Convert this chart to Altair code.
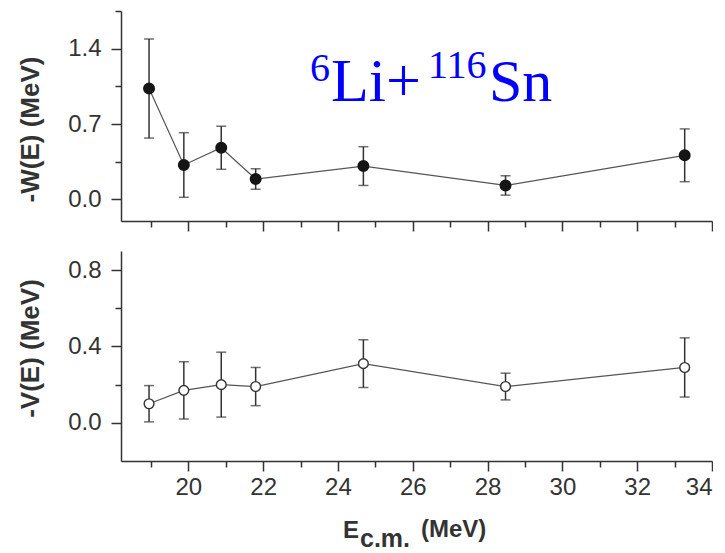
import altair as alt
import pandas as pd

# ---- data ----
E_cm = [18.95, 19.88, 20.88, 21.80, 24.68, 28.48, 33.27]
W_val = [1.03, 0.32, 0.48, 0.19, 0.31, 0.13, 0.41]
W_err = [0.46, 0.30, 0.20, 0.095, 0.18, 0.09, 0.245]
V_val = [0.10, 0.17, 0.20, 0.19, 0.31, 0.19, 0.29]
V_err = [0.095, 0.15, 0.17, 0.10, 0.125, 0.07, 0.155]

x_major = [20, 22, 24, 26, 28, 30, 32, 34]
x_minor = [19, 21, 23, 25, 27, 29, 31, 33]
w_major = [0.0, 0.7, 1.4]
w_minor = [0.35, 1.05, 1.75]
v_major = [0.0, 0.4, 0.8]
v_minor = [0.2, 0.6]

top_df = pd.DataFrame({
    "E": E_cm, "val": W_val,
    "lo": [v - e for v, e in zip(W_val, W_err)],
    "hi": [v + e for v, e in zip(W_val, W_err)],
})
bot_df = pd.DataFrame({
    "E": E_cm, "val": V_val,
    "lo": [v - e for v, e in zip(V_val, V_err)],
    "hi": [v + e for v, e in zip(V_val, V_err)],
})
one = pd.DataFrame({"k": [0]})

INK = "#333333"
FONT = "Liberation Sans"
W, H = 591, 210

xscale = alt.Scale(domain=[18.2, 34], nice=False, zero=False)


def major_axis(orient, values, labels, title=None, fmt=None, **kw):
    args = dict(orient=orient, values=values, labels=labels, grid=False,
                tickSize=10, tickWidth=1.5, tickColor=INK,
                domainColor=INK, domainWidth=1.5,
                labelFont=FONT, labelFontSize=24, labelColor=INK,
                labelPadding=4 if orient == "bottom" else 10)
    if fmt:
        args["format"] = fmt
    if title:
        args.update(title=title, titleFont=FONT, titleFontSize=26,
                    titleFontWeight="bold", titleColor=INK)
    else:
        args["title"] = None
    args.update(kw)
    return alt.Axis(**args)


def minor_axis(orient, values):
    return alt.Axis(orient=orient, values=values, labels=False, grid=False,
                    domain=False, tickSize=6, tickWidth=1.5, tickColor=INK,
                    title=None)


def panel(df, yscale, ymaj, ymin, ytitle, title_y, show_xlabels, open_pts):
    base = alt.Chart(df)
    minor = base.mark_point(opacity=0).encode(
        x=alt.X("E:Q", scale=xscale, axis=minor_axis("bottom", x_minor)),
        y=alt.Y("val:Q", scale=yscale, axis=minor_axis("left", ymin)),
    )
    line = base.mark_line(color="#555555", strokeWidth=1.2).encode(
        x=alt.X("E:Q", scale=xscale,
                axis=major_axis("bottom", x_major, show_xlabels, fmt="d")),
        y=alt.Y("val:Q", scale=yscale,
                axis=major_axis("left", ymaj, True, title=ytitle, fmt=".1f",
                                titleX=-91, titleY=title_y,
                                titleBaseline="middle")),
    )
    bars = base.mark_rule(color=INK, strokeWidth=1.5).encode(
        x=alt.X("E:Q", scale=xscale, axis=None),
        y=alt.Y("lo:Q", scale=yscale, axis=None),
        y2="hi:Q",
    )
    cap_lo = base.mark_tick(orient="horizontal", size=10, thickness=1.5,
                            color=INK).encode(
        x=alt.X("E:Q", scale=xscale, axis=None),
        y=alt.Y("lo:Q", scale=yscale, axis=None),
    )
    cap_hi = base.mark_tick(orient="horizontal", size=10, thickness=1.5,
                            color=INK).encode(
        x=alt.X("E:Q", scale=xscale, axis=None),
        y=alt.Y("hi:Q", scale=yscale, axis=None),
    )
    if open_pts:
        pts = base.mark_point(shape="circle", filled=True, fill="white",
                              stroke=INK, strokeWidth=1.4, size=95,
                              opacity=1)
    else:
        pts = base.mark_point(shape="circle", filled=True, fill="#151515",
                              stroke="#151515", size=100, opacity=1)
    pts = pts.encode(
        x=alt.X("E:Q", scale=xscale, axis=None),
        y=alt.Y("val:Q", scale=yscale, axis=None),
    )
    return [minor, line, bars, cap_lo, cap_hi, pts]


def txt(s, x, y, size, font, color, weight="normal"):
    return alt.Chart(one).mark_text(
        text=s, font=font, fontSize=size, fontWeight=weight, color=color,
        align="left", baseline="alphabetic"
    ).encode(x=alt.value(x), y=alt.value(y))


BLUE = "#0000ff"
SERIF = "Liberation Serif"
title_marks = [
    txt("6", 189, 70, 40, SERIF, BLUE),
    txt("Li+", 210, 90, 62, SERIF, BLUE),
    txt("116", 307, 67, 40, SERIF, BLUE),
    txt("Sn", 368, 90, 60, SERIF, BLUE),
]

xtitle_marks = [
    txt("E", 222, 287, 24, FONT, INK, "bold"),
    txt("c.m.", 239, 296, 25, FONT, INK, "bold"),
    txt("(MeV)", 300, 286, 24, FONT, INK, "bold"),
]

top = alt.layer(
    *panel(top_df, alt.Scale(domain=[-0.2, 1.75], nice=False, zero=False),
           w_major, w_minor, "-W(E) (MeV)", 118, False, False),
    *title_marks,
).resolve_axis(x="independent", y="independent").properties(width=W, height=H)

bottom = alt.layer(
    *panel(bot_df, alt.Scale(domain=[-0.2, 0.9], nice=False, zero=False),
           v_major, v_minor, "-V(E) (MeV)", 97, True, True),
    *xtitle_marks,
).resolve_axis(x="independent", y="independent").properties(width=W, height=H)

chart = alt.vconcat(top, bottom, spacing=19).properties(
    padding={"left": 16, "top": 10, "right": 0, "bottom": 0},
    background="white",
).configure_view(stroke=None)

chart.save("out.html", embed_options={"renderer": "svg", "actions": False})
